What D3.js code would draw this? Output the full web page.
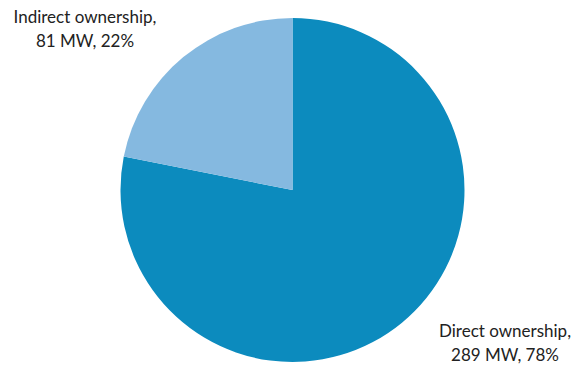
<!DOCTYPE html>
<html>
<head>
<meta charset="utf-8">
<script src="https://cdn.jsdelivr.net/npm/d3@7"></script>
<style>
  body { margin: 0; background: #fff; }
  text { font-family: Lato, "Open Sans", sans-serif; fill: #222; }
</style>
</head>
<body>
<div class="canvas"></div>
<script>
// chart data
const names = ['Direct ownership', 'Indirect ownership'];
const values = [289, 81];
const shares = [78, 22];
const colors = ['#0c8bbe', '#85b9e0'];

// dimensions
const dims = { width: 574, height: 366, radius: 172 };
const cent = { x: 292.5, y: 190 };

const svg = d3.select('.canvas')
    .append('svg')
    .attr('width', dims.width)
    .attr('height', dims.height);

const graph = svg.append('g')
    .attr('transform', `translate(${cent.x}, ${cent.y})`);

const pie = d3.pie().sort(null).value(d => d.value);
const arcPath = d3.arc().innerRadius(0).outerRadius(dims.radius);
const color = d3.scaleOrdinal().domain(names).range(colors);

const data = names.map((n, i) => ({ name: n, value: values[i], share: shares[i] }));

graph.selectAll('path')
    .data(pie(data))
    .enter()
    .append('path')
    .attr('d', arcPath)
    .attr('fill', d => color(d.data.name));

// labels sit outside the pie, two lines each
const labelPos = {
    'Indirect ownership': { x: 85, y: 23 },
    'Direct ownership': { x: 505, y: 337 }
};

const labels = svg.selectAll('text.label')
    .data(data)
    .enter()
    .append('text')
    .attr('class', 'label')
    .attr('text-anchor', 'middle')
    .attr('font-size', 17)
    .attr('x', d => labelPos[d.name].x)
    .attr('y', d => labelPos[d.name].y);

labels.append('tspan')
    .attr('x', d => labelPos[d.name].x)
    .text(d => d.name + ',');
labels.append('tspan')
    .attr('x', d => labelPos[d.name].x)
    .attr('dy', 24)
    .text(d => `${d.value} MW, ${d.share}%`);
</script>
</body>
</html>
